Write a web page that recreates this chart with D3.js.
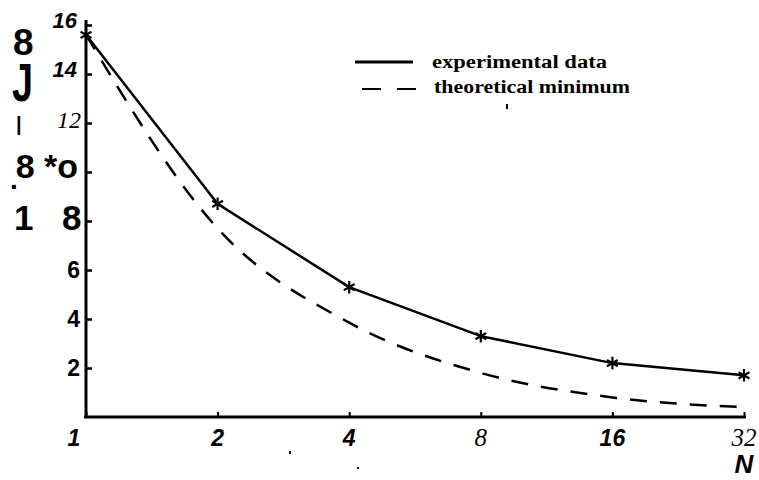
<!DOCTYPE html>
<html>
<head>
<meta charset="utf-8">
<script src="https://cdn.jsdelivr.net/npm/d3@7"></script>
<style>
  body { margin: 0; background: #fff; }
  svg { display: block; }
</style>
</head>
<body>
<div id="chart"></div>
<script>
// values
const nValues = [1, 2, 4, 8, 16, 32];
const experimental = [15.6, 8.7, 5.3, 3.3, 2.2, 1.7];
const theoretical = [15.6, 7.7, 3.85, 1.8, 0.8, 0.4];
const yTicks = [2, 4, 6, 8, 10, 12, 14, 16];
const yTickLabels = ["2", "4", "6", "", "", "12", "14", "16"];
const xTickLabels = ["1", "2", "4", "8", "16", "32"];
const legendNames = ["experimental data", "theoretical minimum"];
const sideText = ["8", "J", "|", ".8", "*o", "1", "8"];

const width = 759, height = 480;
const svg = d3.select('#chart').append('svg')
    .attr('width', width)
    .attr('height', height);

const x = d3.scaleLog().base(2).domain([1, 32]).range([86, 744]);
const y = d3.scaleLinear().domain([0, 16]).range([417, 25]);

const sans = 'Liberation Sans, Arial, sans-serif';
const serif = 'Liberation Serif, Times New Roman, serif';

// axes, ticks pointing inward
svg.append('g')
    .attr('transform', 'translate(0,417)')
    .call(d3.axisBottom(x).tickValues(nValues).tickSize(-5).tickFormat(''))
    .call(g => g.select('.domain').attr('stroke-width', 3).attr('d', 'M84,0H746'))
    .call(g => g.selectAll('.tick line').attr('stroke-width', 2));

svg.append('g')
    .attr('transform', 'translate(86,0)')
    .call(d3.axisLeft(y).tickValues(yTicks).tickSize(-6).tickFormat(''))
    .call(g => g.select('.domain').attr('stroke-width', 3).attr('d', 'M0,20V418'))
    .call(g => g.selectAll('.tick line').attr('stroke-width', 2.5));

// y tick labels (mixed fonts like the scan)
yTicks.forEach((v, i) => {
    const t = yTickLabels[i];
    if (!t) return;
    const lab = svg.append('text')
        .attr('text-anchor', 'end')
        .text(t);
    if (v >= 14) {
        lab.attr('x', 77).attr('y', y(v) + 3).attr('font-family', sans)
            .attr('font-weight', 'bold').attr('font-style', 'italic').attr('font-size', 22);
    } else if (v === 12) {
        lab.attr('x', 81).attr('y', y(v) + 5).attr('font-family', serif)
            .attr('font-style', 'italic').attr('font-size', 24);
    } else {
        lab.attr('x', 80).attr('y', y(v) + 8).attr('font-family', sans)
            .attr('font-weight', 'bold').attr('font-size', 23);
    }
});

// x tick labels
xTickLabels.forEach((t, i) => {
    const isSerif = (t === '8' || t === '32');
    svg.append('text')
        .attr('x', x(nValues[i]) + (i === 0 ? -12 : 0))
        .attr('y', 446)
        .attr('text-anchor', 'middle')
        .attr('font-family', isSerif ? serif : sans)
        .attr('font-weight', isSerif ? 'normal' : 'bold')
        .attr('font-style', 'italic')
        .attr('font-size', isSerif ? 25 : 23)
        .text(t);
});

svg.append('text')
    .attr('x', 744).attr('y', 473)
    .attr('text-anchor', 'middle')
    .attr('font-family', sans)
    .attr('font-weight', 'bold').attr('font-style', 'italic')
    .attr('font-size', 26)
    .text('N');

// garbled rotated axis title from the scan
const sidePos = [
    [13, 55, 37], [12, 101, 54], [16, 131, 20],
    [10, 178, 34], [44, 178, 34], [14, 230, 35], [62, 230, 35]
];
sideText.forEach((t, i) => {
    const [sx, sy, fs] = sidePos[i];
    const el = svg.append('text')
        .attr('font-family', sans)
        .attr('font-weight', 'bold')
        .attr('font-size', fs);
    if (t === 'J') {
        el.attr('transform', `translate(${sx},${sy}) scale(0.7,1)`).text(t);
    } else if (t === '.8') {
        // the dot sits below the baseline in the scan
        el.attr('x', sx).attr('y', sy);
        el.append('tspan').attr('dy', 11).attr('font-size', 28).text('.');
        el.append('tspan').attr('dy', -11).attr('dx', -2).text('8');
    } else {
        el.attr('x', sx).attr('y', sy).text(t);
    }
});

// lines
const line = d3.line()
    .x((d, i) => x(nValues[i]))
    .y(d => y(d));

svg.append('path')
    .datum(theoretical)
    .attr('fill', 'none')
    .attr('stroke', '#000')
    .attr('stroke-width', 2.5)
    .attr('stroke-dasharray', '17,13')
    .attr('d', line.curve(d3.curveMonotoneX));

svg.append('path')
    .datum(experimental)
    .attr('fill', 'none')
    .attr('stroke', '#000')
    .attr('stroke-width', 2.5)
    .attr('d', line.curve(d3.curveLinear));

const star = d3.symbol().type(d3.symbolAsterisk).size(110);
svg.selectAll('.pt')
    .data(experimental)
    .enter()
    .append('path')
    .attr('class', 'pt')
    .attr('transform', (d, i) => `translate(${x(nValues[i])},${y(d)})`)
    .attr('d', star)
    .attr('fill', 'none')
    .attr('stroke', '#000')
    .attr('stroke-width', 2.2);

// legend
const lg = svg.append('g');
lg.append('line')
    .attr('x1', 355).attr('x2', 413).attr('y1', 62).attr('y2', 62)
    .attr('stroke', '#000').attr('stroke-width', 3);
lg.append('line')
    .attr('x1', 362).attr('x2', 419).attr('y1', 89).attr('y2', 89)
    .attr('stroke', '#000').attr('stroke-width', 2)
    .attr('stroke-dasharray', '19,16');
legendNames.forEach((t, i) => {
    lg.append('text')
        .attr('x', i === 0 ? 432 : 434)
        .attr('y', i === 0 ? 68 : 93)
        .attr('font-family', serif)
        .attr('font-weight', 'bold')
        .attr('font-size', 18)
        .attr('textLength', i === 0 ? 175 : 196)
        .attr('lengthAdjust', 'spacingAndGlyphs')
        .text(t);
});

// scan specks
[[506, 104, 2, 5], [289, 451, 2, 3], [357, 467, 2, 2]].forEach(s => {
    svg.append('rect').attr('x', s[0]).attr('y', s[1]).attr('width', s[2]).attr('height', s[3]).attr('fill', '#000');
});
</script>
</body>
</html>
